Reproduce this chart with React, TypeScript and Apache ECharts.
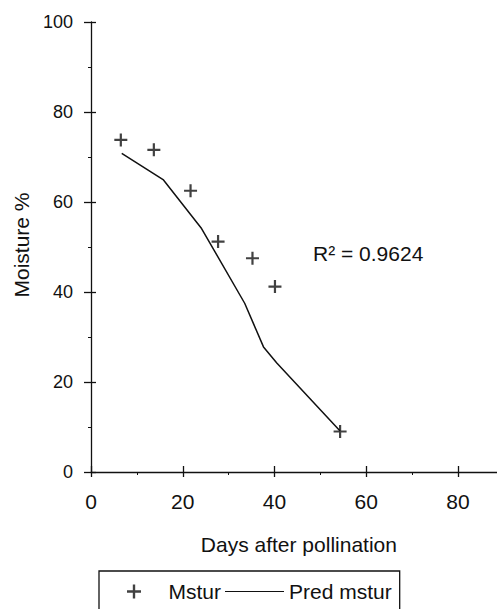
import React, { useEffect, useRef } from "react";
import * as echarts from "echarts";

// Observed moisture (Mstur) and predicted curve (Pred mstur)
const daysObserved = [6.5, 13.7, 21.7, 27.7, 35.2, 40.1, 54.3];
const moistureObserved = [73.8, 71.6, 62.5, 51.2, 47.5, 41.2, 9.0];
const daysPredicted = [6.7, 15.8, 24.1, 33.5, 37.6, 40.5, 54.3];
const moisturePredicted = [70.8, 64.9, 54.1, 37.5, 27.8, 24.2, 9.1];
const seriesNames = ["Mstur", "Pred mstur"];
const rSquaredLabel = "R² = 0.9624";
const xAxisTitle = "Days after pollination";
const yAxisTitle = "Moisture %";
const xRange = [0, 100];
const yRange = [0, 100];
const tickStep = 20;

const FONT = "'Liberation Sans', Arial, Helvetica, sans-serif";
const INK = "#111";
const PLUS = "path://M5.4,0 H7.6 V5.4 H13 V7.6 H7.6 V13 H5.4 V7.6 H0 V5.4 H5.4 Z";
const DASH = "path://M0,0 H100 V2 H0 Z";

export default function App() {
  const ref = useRef<HTMLDivElement>(null);

  useEffect(() => {
    if (!ref.current) return;
    const chart = echarts.init(ref.current, null, { renderer: "svg" });

    const observed = daysObserved.map((d, i) => [d, moistureObserved[i]]);
    const predicted = daysPredicted.map((d, i) => [d, moisturePredicted[i]]);

    const baseX = {
      type: "value" as const,
      min: xRange[0],
      max: xRange[1],
      interval: tickStep,
      splitLine: { show: false },
    };
    const baseY = {
      type: "value" as const,
      min: yRange[0],
      max: yRange[1],
      interval: tickStep,
      splitLine: { show: false },
    };

    chart.setOption({
      animation: false,
      backgroundColor: "#fff",
      grid: {
        left: 91,
        top: 22,
        width: 458.75,
        bottom: 137,
        containLabel: false,
        outerBoundsMode: "none",
      },
      xAxis: [
        {
          ...baseX,
          position: "bottom",
          name: xAxisTitle,
          nameLocation: "middle",
          nameGap: 62,
          nameTextStyle: { fontSize: 21, color: INK, fontFamily: FONT, padding: [0, 43, 0, 0] },
          axisLine: { show: true, lineStyle: { color: INK, width: 1.3 } },
          axisTick: { show: true, inside: false, length: 5, lineStyle: { color: INK, width: 1.3 } },
          minorTick: { show: true, splitNumber: 2, length: 3, lineStyle: { color: INK, width: 1 } },
          axisLabel: { margin: 19, fontSize: 21, color: INK, fontFamily: FONT, showMaxLabel: false },
        },
        {
          ...baseX,
          position: "bottom",
          axisLine: { show: false },
          axisTick: { show: true, inside: true, length: 6, lineStyle: { color: INK, width: 1.3 } },
          axisLabel: { show: false },
        },
      ],
      yAxis: [
        {
          ...baseY,
          position: "left",
          name: yAxisTitle,
          nameLocation: "middle",
          nameGap: 58,
          nameRotate: 90,
          nameTextStyle: { fontSize: 21, color: INK, fontFamily: FONT, padding: [0, 0, 0, 4] },
          axisLine: { show: true, lineStyle: { color: INK, width: 1.3 } },
          axisTick: { show: true, inside: false, length: 7, lineStyle: { color: INK, width: 1.3 } },
          minorTick: { show: true, splitNumber: 2, length: 3, lineStyle: { color: INK, width: 1 } },
          axisLabel: { margin: 18, fontSize: 18, color: INK, fontFamily: FONT },
        },
        {
          ...baseY,
          position: "left",
          axisLine: { show: false },
          axisTick: { show: true, inside: true, length: 5, lineStyle: { color: INK, width: 1.3 } },
          axisLabel: { show: false },
        },
      ],
      legend: {
        left: 99,
        top: 571,
        orient: "horizontal",
        padding: [10, 8, 22, 28],
        itemGap: 4,
        itemWidth: 59,
        itemHeight: 14,
        borderColor: INK,
        borderWidth: 1.3,
        textStyle: { fontSize: 21, color: INK, fontFamily: FONT },
        data: [
          { name: seriesNames[0], icon: PLUS },
          { name: seriesNames[1], icon: DASH },
        ],
      },
      graphic: [
        {
          type: "text",
          left: 313,
          top: 243,
          style: { text: rSquaredLabel, fontSize: 21, fill: INK, fontFamily: FONT },
        },
      ],
      series: [
        {
          name: seriesNames[0],
          type: "scatter",
          xAxisIndex: 0,
          yAxisIndex: 0,
          symbol: PLUS,
          symbolSize: 13,
          itemStyle: { color: INK },
          data: observed,
          z: 3,
        },
        {
          name: seriesNames[1],
          type: "line",
          xAxisIndex: 0,
          yAxisIndex: 0,
          symbol: "none",
          color: INK,
          lineStyle: { color: INK, width: 1.5 },
          data: predicted,
          z: 2,
        },
      ],
    });

    return () => chart.dispose();
  }, []);

  return (
    <div
      ref={ref}
      style={{ position: "absolute", left: 0, top: 0, width: 497, height: 609 }}
    />
  );
}
